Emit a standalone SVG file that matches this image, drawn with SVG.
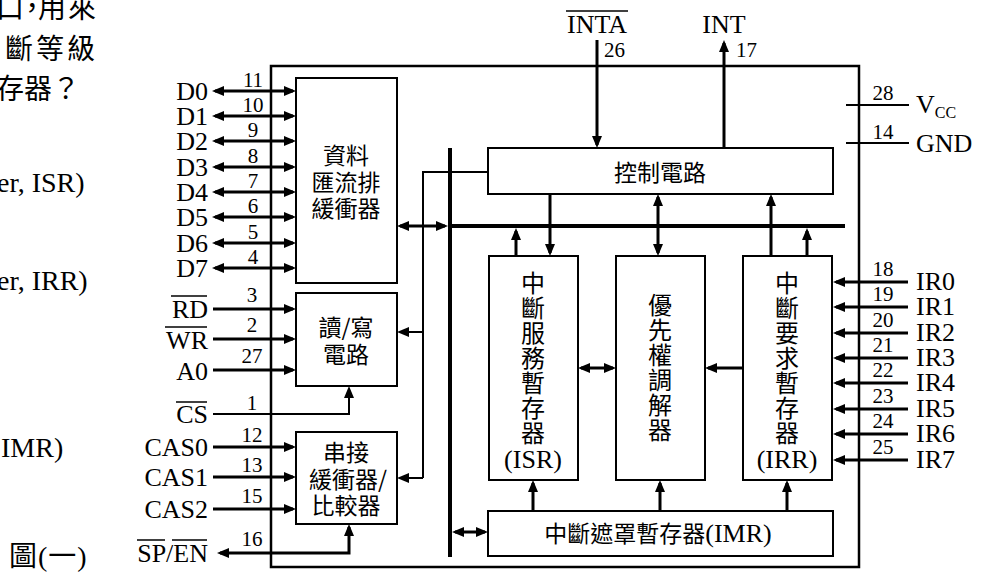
<svg xmlns="http://www.w3.org/2000/svg" width="988" height="573" viewBox="0 0 988 573">
<style>
.bx{fill:#fff;stroke:#000;stroke-width:2}
.w{fill:none;stroke:#000;stroke-width:3}
.t{fill:none;stroke:#000;stroke-width:2}
.bus{fill:none;stroke:#000;stroke-width:4}
.ov{stroke:#000;stroke-width:1.5}
.lb{font-family:"Liberation Serif",serif;font-size:26px;fill:#000}
.nm{font-family:"Liberation Serif",serif;font-size:21px;fill:#000}
.cj{font-family:"Noto Sans CJK TC","Noto Sans CJK SC",sans-serif;font-size:23px;fill:#000}
.vc{font-family:"Noto Sans CJK TC","Noto Sans CJK SC",sans-serif;font-size:24px;fill:#000}
.q{font-family:"Liberation Serif","Noto Sans CJK TC",serif;font-size:28px;fill:#000}
.e{text-anchor:end}
.m{text-anchor:middle}
</style>
<defs>
<marker id="ah" viewBox="0 0 12 10" refX="9" refY="5" markerWidth="12" markerHeight="10" markerUnits="userSpaceOnUse" orient="auto-start-reverse"><path d="M0,0L12,5L0,10z" fill="#000"/></marker>
</defs>
<rect width="988" height="573" fill="#fff"/>

<g id="question-text">
<text class="q"><tspan x="-4" y="18">口</tspan><tspan x="18" y="18">，</tspan><tspan x="38" y="18">用</tspan><tspan x="68" y="18">來</tspan></text>
<text class="q" x="5" y="59" letter-spacing="3">斷等級</text>
<text class="q" x="-4" y="99">存器？</text>
<text class="q" x="-3" y="192">er, ISR)</text>
<text class="q" x="-3" y="290">er, IRR)</text>
<text class="q" x="1" y="457">IMR)</text>
<text class="q" x="9" y="566" letter-spacing="1">圖(一)</text>
</g>

<g id="chip"><rect x="271" y="66" width="588" height="501" fill="none" stroke="#000" stroke-width="2.5"/></g>

<g id="data-buffer"><rect class="bx" x="296" y="78" width="101" height="205"/>
<text class="cj m"><tspan x="346" y="164">資料</tspan><tspan x="346" y="191">匯流排</tspan><tspan x="346" y="217">緩衝器</tspan></text></g>
<g id="rw-logic"><rect class="bx" x="296" y="293" width="101" height="93"/>
<text class="cj m"><tspan x="346" y="336">讀/寫</tspan><tspan x="346" y="363">電路</tspan></text></g>
<g id="cascade"><rect class="bx" x="296" y="432" width="101" height="92"/>
<text class="cj m"><tspan x="346" y="461">串接</tspan><tspan x="348" y="488">緩衝器/</tspan><tspan x="346" y="514">比較器</tspan></text></g>
<g id="control"><rect class="bx" x="488" y="148" width="345" height="46"/>
<text class="cj m" x="660" y="181">控制電路</text></g>
<g id="isr"><rect class="bx" x="489" y="256" width="89" height="224"/>
<text class="vc m" x="533 533 533 533 533 533 533" y="292 317 342 367 392 417 442">中斷服務暫存器<tspan class="lb" x="533" y="468">(ISR)</tspan></text></g>
<g id="priority"><rect class="bx" x="616" y="256" width="89" height="224"/>
<text class="vc m" x="660 660 660 660 660 660" y="314 339 364 389 414 439">優先權調解器</text></g>
<g id="irr"><rect class="bx" x="743" y="256" width="89" height="224"/>
<text class="vc m" x="787 787 787 787 787 787 787" y="292 317 342 367 392 417 442">中斷要求暫存器<tspan class="lb" x="787" y="468">(IRR)</tspan></text></g>
<g id="imr"><rect class="bx" x="488" y="511" width="345" height="45"/>
<text class="cj m" x="658" y="542">中斷遮罩暫存器<tspan class="lb">(IMR)</tspan></text></g>

<g id="pin-labels">
<text class="lb e"><tspan x="208" y="100">D0</tspan><tspan x="208" y="125">D1</tspan><tspan x="208" y="150">D2</tspan><tspan x="208" y="176">D3</tspan><tspan x="208" y="201">D4</tspan><tspan x="208" y="226">D5</tspan><tspan x="208" y="252">D6</tspan><tspan x="208" y="277">D7</tspan></text>
<text class="nm m"><tspan x="253" y="87">11</tspan><tspan x="253" y="112">10</tspan><tspan x="253" y="137">9</tspan><tspan x="253" y="163">8</tspan><tspan x="253" y="188">7</tspan><tspan x="253" y="213">6</tspan><tspan x="253" y="239">5</tspan><tspan x="253" y="264">4</tspan></text>
<text class="lb e"><tspan x="208" y="318">RD</tspan><tspan x="208" y="349">WR</tspan><tspan x="208" y="380">A0</tspan><tspan x="208" y="423">CS</tspan><tspan x="208" y="456">CAS0</tspan><tspan x="208" y="486">CAS1</tspan><tspan x="208" y="518">CAS2</tspan><tspan x="208" y="562">SP/EN</tspan></text>
<line class="ov" x1="171" y1="296" x2="207" y2="296"/><line class="ov" x1="165" y1="327" x2="207" y2="327"/><line class="ov" x1="176" y1="402" x2="207" y2="402"/>
<line class="ov" x1="137" y1="540" x2="165" y2="540"/><line class="ov" x1="172" y1="540" x2="207" y2="540"/>
<text class="nm m"><tspan x="252" y="302">3</tspan><tspan x="252" y="332">2</tspan><tspan x="252" y="363">27</tspan><tspan x="252" y="410">1</tspan><tspan x="252" y="442">12</tspan><tspan x="252" y="472">13</tspan><tspan x="252" y="503">15</tspan><tspan x="252" y="546">16</tspan></text>
<text class="lb m" x="597" y="33">INTA</text><line class="ov" x1="566" y1="11" x2="628" y2="11"/><text class="nm" x="604" y="57">26</text>
<text class="lb m" x="724" y="33">INT</text><text class="nm" x="736" y="57">17</text>
<text class="nm m"><tspan x="883" y="100">28</tspan><tspan x="883" y="139">14</tspan></text>
<text class="lb" x="916" y="113">V<tspan font-size="16" dy="5">CC</tspan></text>
<text class="lb" x="916" y="152">GND</text>
<text class="nm m"><tspan x="883" y="276">18</tspan><tspan x="883" y="301">19</tspan><tspan x="883" y="327">20</tspan><tspan x="883" y="352">21</tspan><tspan x="883" y="377">22</tspan><tspan x="883" y="403">23</tspan><tspan x="883" y="428">24</tspan><tspan x="883" y="454">25</tspan></text>
<text class="lb"><tspan x="916" y="290">IR0</tspan><tspan x="916" y="315">IR1</tspan><tspan x="916" y="341">IR2</tspan><tspan x="916" y="366">IR3</tspan><tspan x="916" y="391">IR4</tspan><tspan x="916" y="417">IR5</tspan><tspan x="916" y="442">IR6</tspan><tspan x="916" y="468">IR7</tspan></text>
</g>

<g id="connectors">
<g class="w" marker-start="url(#ah)" marker-end="url(#ah)">
<path d="M215,91H293"/><path d="M215,116H293"/><path d="M215,141H293"/><path d="M215,167H293"/>
<path d="M215,192H293"/><path d="M215,217H293"/><path d="M215,243H293"/><path d="M215,268H293"/>
<path d="M400,226H445"/>
<path d="M220,553H349V527"/>
<path d="M658,197V253"/>
<path d="M581,368H613"/>
<path d="M455,532H485"/>
</g>
<g class="w" marker-end="url(#ah)">
<path d="M213,309H293"/><path d="M213,339H293"/><path d="M213,370H293"/>
<path d="M213,447H293"/><path d="M213,477H293"/><path d="M213,509H293"/>
<path d="M597,40V145"/><path d="M724,148V43"/>
<path d="M550,194V253"/><path d="M516,256V231"/><path d="M771,256V197"/><path d="M807,256V231"/>
<path d="M743,368H708"/>
<path d="M533,511V483"/><path d="M660,511V483"/><path d="M787,511V483"/>
<path d="M908,282H836"/><path d="M908,307H836"/><path d="M908,333H836"/><path d="M908,358H836"/>
<path d="M908,383H836"/><path d="M908,409H836"/><path d="M908,434H836"/><path d="M908,460H836"/>
</g>
<g class="t" marker-end="url(#ah)">
<path d="M213,414H349V389"/>
<path d="M423,332H400"/><path d="M423,478H400"/>
</g>
<path class="t" d="M488,172H423V478"/>
<path class="t" d="M846,105H909M846,143H909"/>
<path class="bus" d="M450,148V557M450,226H845"/>
</g>
</svg>
